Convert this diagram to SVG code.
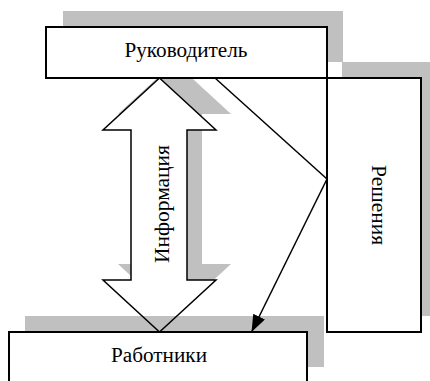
<svg xmlns="http://www.w3.org/2000/svg" width="430" height="381" viewBox="0 0 430 381">
<style>
.shadow{fill:#c0c0c0;stroke:none}
.box{fill:#fff;stroke:#000;stroke-width:2}
.lbl{font-family:"Liberation Serif","Times New Roman",serif;font-size:20px;fill:#000;text-anchor:middle}
.ln{fill:none;stroke:#000;stroke-width:1.5}
</style>
<defs>
<marker id="ah" markerWidth="17" markerHeight="13" refX="16" refY="6.5" orient="auto" markerUnits="userSpaceOnUse" viewBox="0 0 17 13">
<path d="M0,0 L17,6.5 L0,13 z" fill="#000"/>
</marker>
</defs>
<rect width="430" height="381" fill="#fff"/>
<rect class="shadow" x="63" y="11" width="280" height="51"/>
<rect class="shadow" x="342" y="62" width="94" height="254"/>
<polygon class="shadow" points="174.5,62 231,114 202,114 202,264 231,264 174.5,316 118,264 146,264 146,114 118,114"/>
<g id="arrow-info-fill">
<polygon points="159.5,78 216,130 187,130 187,280 216,280 159.5,332 103,280 131,280 131,130 103,130" fill="#fff" stroke="none"/>
</g>
<rect class="shadow" x="25" y="316" width="299" height="51"/>
<g id="arrow-info">
<polygon points="159.5,78 216,130 187,130 187,280 216,280 159.5,332 103,280 131,280 131,130 103,130" fill="none" stroke="#000" stroke-width="1.5"/>
<text class="lbl" transform="translate(169,204) rotate(-90)" textLength="118" lengthAdjust="spacingAndGlyphs">Информация</text>
</g>
<g id="rukovoditel">
<rect class="box" x="46" y="27" width="281" height="51"/>
<text class="lbl" x="186" y="57" textLength="123" lengthAdjust="spacingAndGlyphs">Руководитель</text>
</g>
<g id="resheniya">
<rect class="box" x="327" y="78" width="94" height="254"/>
<text class="lbl" transform="translate(372,205) rotate(90)" textLength="80" lengthAdjust="spacingAndGlyphs">Решения</text>
</g>
<g id="rabotniki">
<rect class="box" x="9" y="332" width="298" height="60"/>
<text class="lbl" x="159" y="362" textLength="96" lengthAdjust="spacingAndGlyphs">Работники</text>
</g>
<g id="connectors">
<polyline class="ln" points="215,78 327,179"/>
<line class="ln" x1="327" y1="179" x2="252" y2="331" stroke-width="2" marker-end="url(#ah)"/>
</g>
</svg>
